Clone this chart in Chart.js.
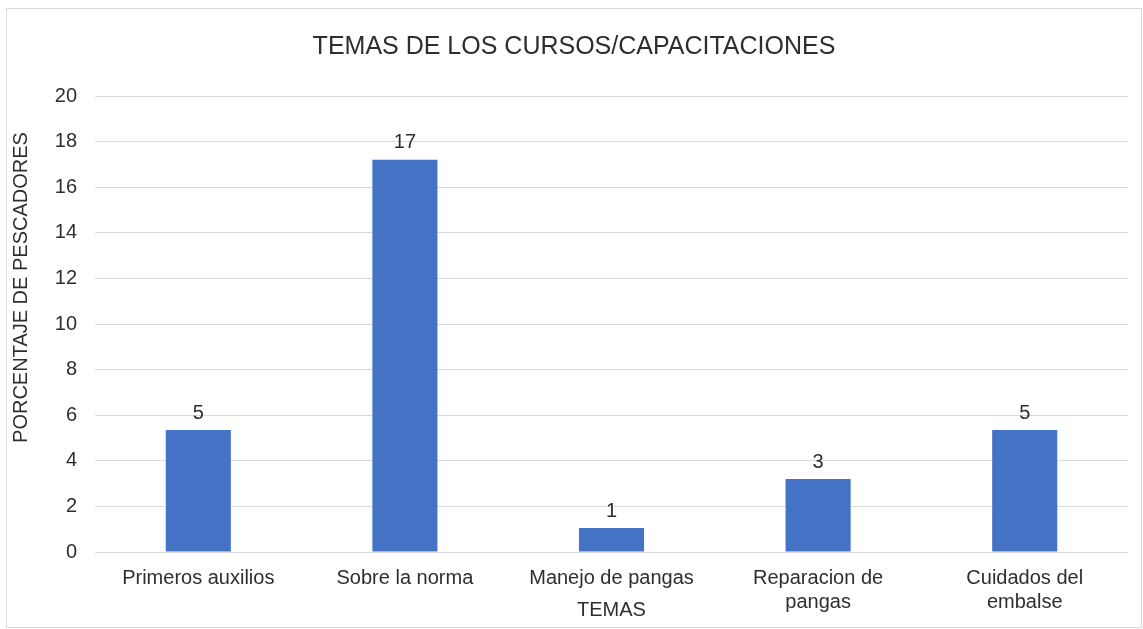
<!DOCTYPE html>
<html>
<head>
<meta charset="utf-8">
<script src="https://cdn.jsdelivr.net/npm/chart.js@4.4.0/dist/chart.umd.min.js"></script>
<style>
  html, body { margin: 0; padding: 0; background: #fff; }
  #wrap { position: absolute; left: 6px; top: 8px; width: 1134px; height: 618px; border: 1px solid #d9d9d9; }
  canvas { display: block; }
</style>
</head>
<body>
<div id="wrap"><canvas id="c" width="1134" height="618"></canvas></div>
<script>
const categories = ["Primeros auxilios", "Sobre la norma", "Manejo de pangas", ["Reparacion de", "pangas"], ["Cuidados del", "embalse"]];
const values = [5.35, 17.2, 1.05, 3.2, 5.35];
const yTicks = { min: 0, max: 20, step: 2 };
const chartTitle = "TEMAS DE LOS CURSOS/CAPACITACIONES";
const xTitle = "TEMAS";
const yTitle = "PORCENTAJE DE PESCADORES";

const FONT = "'Liberation Sans', Arial, sans-serif";
const TEXT = "#2e2e2e";

const dataLabels = {
  id: 'dataLabels',
  afterDatasetsDraw(chart) {
    const ctx = chart.ctx;
    const meta = chart.getDatasetMeta(0);
    ctx.save();
    ctx.font = "20px " + FONT;
    ctx.fillStyle = TEXT;
    ctx.textAlign = 'center';
    ctx.textBaseline = 'middle';
    meta.data.forEach((bar, i) => {
      ctx.fillText(String(Math.round(values[i])), bar.x, bar.y - 17);
    });
    ctx.restore();
  }
};

// y-axis title drawn slightly above the plot's vertical centre, as in the original
const yTitlePlugin = {
  id: 'yTitlePlugin',
  afterDraw(chart) {
    const ctx = chart.ctx;
    const area = chart.chartArea;
    const scale = chart.scales.y;
    ctx.save();
    ctx.font = "20px " + FONT;
    ctx.fillStyle = TEXT;
    ctx.textAlign = 'center';
    ctx.textBaseline = 'middle';
    ctx.translate(scale.left + 1, area.top + (area.bottom - area.top) * 0.42);
    ctx.rotate(-Math.PI / 2);
    ctx.fillText(yTitle, 0, 0);
    ctx.restore();
  }
};

new Chart(document.getElementById('c'), {
  type: 'bar',
  data: {
    labels: categories,
    datasets: [{
      data: values,
      backgroundColor: '#4472C4',
      borderWidth: 0,
      categoryPercentage: 1,
      barPercentage: 0.315
    }]
  },
  options: {
    responsive: false,
    animation: false,
    devicePixelRatio: 1,
    layout: { padding: { left: 13, right: 13, top: 0, bottom: 0 } },
    plugins: {
      legend: { display: false },
      tooltip: { enabled: false },
      title: {
        display: true,
        text: chartTitle,
        color: TEXT,
        font: { family: FONT, size: 25, weight: 'normal' },
        padding: { top: 23, bottom: 34 }
      }
    },
    scales: {
      x: {
        grid: { display: false, drawTicks: false },
        border: { display: false },
        ticks: { color: TEXT, font: { family: FONT, size: 20 }, padding: 14, maxRotation: 0, autoSkip: false },
        title: { display: true, text: xTitle, color: TEXT, font: { family: FONT, size: 20 }, padding: { top: -30, bottom: 5 } }
      },
      y: {
        min: yTicks.min,
        max: yTicks.max,
        grid: { color: '#d9d9d9', drawTicks: false, lineWidth: 1 },
        border: { display: false },
        ticks: { stepSize: yTicks.step, color: TEXT, font: { family: FONT, size: 20 }, padding: 18 },
        title: { display: true, text: yTitle, color: 'rgba(0,0,0,0)', font: { family: FONT, size: 20 }, padding: { top: -11, bottom: 3.76 } }
      }
    }
  },
  plugins: [dataLabels, yTitlePlugin]
});
</script>
</body>
</html>
